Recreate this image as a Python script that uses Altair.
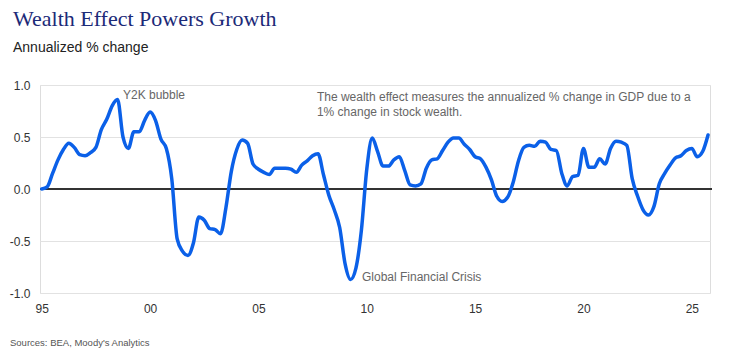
import altair as alt
import pandas as pd

start_year = 1995
# quarterly values, 1995Q1 ...
values = [
    0.00, 0.02, 0.15, 0.28,
    0.38, 0.44, 0.40, 0.33,
    0.32, 0.35, 0.40, 0.57,
    0.67, 0.80, 0.86, 0.50,
    0.39, 0.55, 0.55, 0.66,
    0.74, 0.66, 0.48, 0.39,
    0.10, -0.48, -0.60, -0.64,
    -0.52, -0.27, -0.30, -0.38,
    -0.39, -0.43, -0.18, 0.17,
    0.38, 0.47, 0.44, 0.24,
    0.19, 0.16, 0.14, 0.20,
    0.20, 0.20, 0.19, 0.16,
    0.23, 0.27, 0.32, 0.34,
    0.14, -0.06, -0.20, -0.37,
    -0.72, -0.87, -0.76, -0.40,
    0.19, 0.49, 0.36, 0.22,
    0.22, 0.28, 0.31, 0.18,
    0.04, 0.03, 0.05, 0.20,
    0.28, 0.29, 0.37, 0.45,
    0.49, 0.49, 0.43, 0.38,
    0.31, 0.29, 0.21, 0.09,
    -0.07, -0.12, -0.08, 0.06,
    0.27, 0.40, 0.42, 0.41,
    0.46, 0.45, 0.38, 0.37,
    0.15, 0.03, 0.12, 0.13,
    0.39, 0.21, 0.21, 0.29,
    0.24, 0.39, 0.46, 0.45,
    0.42, 0.10, -0.07, -0.20,
    -0.25, -0.17, 0.05, 0.15,
    0.23, 0.30, 0.32, 0.37,
    0.39, 0.31, 0.36, 0.52,
]
tick_years = [1995, 2000, 2005, 2010, 2015, 2020, 2025]
y_ticks = [-1.0, -0.5, 0.0, 0.5, 1.0]

notes_text = [
    "Y2K bubble",
    "The wealth effect measures the annualized  % change  in GDP due to a",
    "1% change  in stock wealth.",
    "Global Financial  Crisis",
]
notes_x = [1998.75, 2007.70, 2007.70, 2009.78]
notes_y = [0.905, 0.885, 0.745, -0.85]

df = pd.DataFrame({"t": [start_year + i / 4 for i in range(len(values))], "v": values})
notes = pd.DataFrame({"t": notes_x, "v": notes_y, "label": notes_text})

x_scale = alt.Scale(domain=[1994.92, 2025.84], nice=False, zero=False)
y_scale = alt.Scale(domain=[-1, 1], nice=False, zero=False)

x_axis = alt.Axis(values=tick_years, labelExpr="slice(toString(datum.value), 2)",
                  grid=False, domain=False, ticks=False, labelPadding=10,
                  labelFontSize=12, labelColor="#333", labelFont="Liberation Sans",
                  title=None)
y_axis = alt.Axis(values=y_ticks, labelExpr="replace(format(datum.value, '.1f'), '\u2212', '-')",
                  grid=True, gridColor="#e2e2e2", gridWidth=1, domain=False, ticks=False,
                  labelPadding=10, labelFontSize=12, labelColor="#333",
                  labelFont="Liberation Sans", title=None)

base = alt.Chart(df)

zero = alt.Chart(pd.DataFrame({"v": [0.0]})).mark_rule(color="#333333", strokeWidth=2).encode(
    y=alt.Y("v:Q", scale=y_scale, axis=y_axis),
    x=alt.value(0), x2=alt.value(672),
)

line = base.mark_line(color="#0B60E8", strokeWidth=3.5, interpolate="monotone",
                      strokeCap="round", strokeJoin="round").encode(
    x=alt.X("t:Q", scale=x_scale, axis=x_axis),
    y=alt.Y("v:Q", scale=y_scale, axis=y_axis),
)

text = alt.Chart(notes).mark_text(align="left", baseline="middle", fontSize=12,
                                  font="Liberation Sans", color="#666666").encode(
    x=alt.X("t:Q", scale=x_scale),
    y=alt.Y("v:Q", scale=y_scale),
    text="label:N",
)

source = alt.Chart(pd.DataFrame({"s": ["Sources: BEA, Moody's Analytics"]})).mark_text(
    align="left", baseline="middle", fontSize=9.5, font="Liberation Sans", color="#555555"
).encode(x=alt.value(-30), y=alt.value(258), text="s:N")

chart = alt.layer(zero, line, text, source).properties(
    width=670, height=208,
    padding={"left": 40, "top": 85, "right": 23, "bottom": 60},
    autosize="none",
    title=alt.TitleParams(
        text="Wealth Effect Powers Growth",
        subtitle="Annualized % change",
        anchor="start", frame="group", dx=-27, offset=23,
        font="Liberation Serif", fontSize=22, fontWeight="normal", color="#1C2A78",
        subtitleFont="Liberation Sans", subtitleFontSize=14, subtitleColor="#222222",
        subtitlePadding=10,
    ),
).configure_view(stroke=None).configure(background="white")

chart.save("out.html", embed_options={"renderer": "svg", "actions": False})
